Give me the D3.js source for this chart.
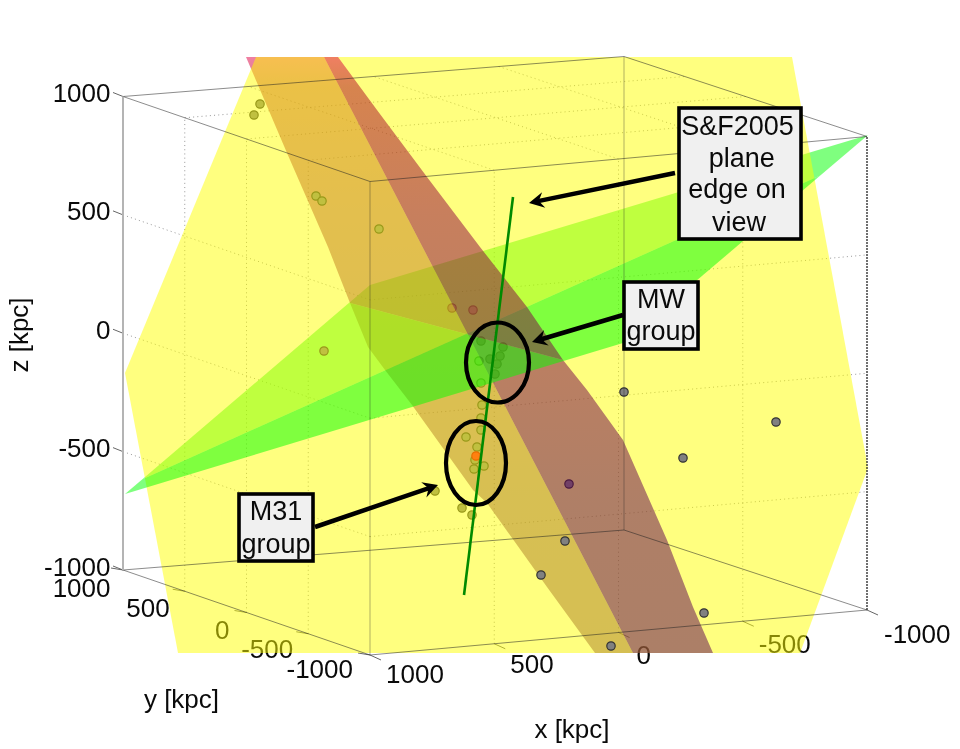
<!DOCTYPE html>
<html><head><meta charset="utf-8">
<script src="https://cdn.jsdelivr.net/npm/d3@7"></script>
<style>html,body{margin:0;padding:0;background:#fff}svg{display:block;filter:blur(0.6px)}text{font-family:"Liberation Sans",Arial,sans-serif;fill:#0a0a0a}</style>
</head><body><div id="chart"></div>
<script>
// ---- axis ticks (kpc)
const xTicks=[1000,500,0,-500,-1000];
const yTicks=[1000,500,0,-500,-1000];
const zTicks=[1000,500,0,-500,-1000];
// ---- planes and marks, read as kpc on the viewing plane [across, up]
const yellowPlane=[[-956,1192],[-1480,-72],[-1268,-1192],[1220,-1192],[1492,-452],[1188,1192]];
const greenPlane=[[-1480,-556],[-500,280],[1492,880],[512,48]];
const redPlane=[[-996,1192],[-832,808],[-668,432],[-632,340],[-580,208],[-508,32],[-440,-60],[-332,-200],[-88,-540],[-32,-592],[208,-928],[400,-1192],
 [872,-1192],[792,-1008],[688,-740],[512,-340],[368,-140],[272,-20],[128,192],[-60,432],[-272,712],[-472,980],[-628,1192]];
// plane intersections
const yellowRed=[[-684,1192],[552,-1192]];
const yellowGreen=[[-1400,-492],[1260,700]];
const redGreen=[[-580,208],[272,-20]];
// satellites by depth in the scene
const satellitesFar=[[-172,188]];
const satellitesBehindYellow=[[-940,1004],[-964,960],[-716,636],[-692,616],[-464,504],[-684,16],[-52,-200],[-56,-252],[-116,-328],[-56,-300],[-72,-368],[-80,-420],[-84,-456],[-44,-444],[-240,-544],[-132,-612],[-92,-640],
 [-56,56],[32,32],[20,-4],[-20,-16],[-64,-24],[8,-36],[0,-76],[-56,-112],[-88,180]];
const satellitesMiddle=[[296,-516]];
const satellitesNear=[[516,-148],[1124,-268],[752,-412],[280,-744],[184,-880],[836,-1032],[464,-1164]];
const m31=[[-76,-404]];
const edgeOnLine=[[72,632],[-124,-960]];
const groupEllipses=[[10,-30,126,160],[-76,-432,120,168]];
const arrows=[[[720,728],[136,608]],[[512,160],[148,52]],[[-720,-688],[-228,-520]]];
const boxes=[[736,988,1224,464],[516,292,812,24],[-1024,-556,-728,-824]];
const boxLabels=[["S&F2005","plane","edge on","view"],["MW","group"],["M31","group"]];

const W=960,H=749;
const sx=d3.scaleLinear().domain([-1000,1000]).range([245,745]);
const sy=d3.scaleLinear().domain([-1000,1000]).range([605,105]);
const P=p=>[sx(p[0]),sy(p[1])];
const ux=d3.scaleLinear().domain([1000,-1000]).range([0,1]);
const uy=d3.scaleLinear().domain([-1000,1000]).range([0,1]);
const uz=d3.scaleLinear().domain([-1000,1000]).range([0,1]);
function project(x,y,z){const u=ux(x),v=uy(y),w=uz(z);
 return [370+497*u-247*v+4*u*v, 655-45*u-85*v+5*u*v-473.5*w];}

const svg=d3.select("#chart").append("svg").attr("width",W).attr("height",H);
const defs=svg.append("defs");
const grad=defs.append("linearGradient").attr("id","redGrad").attr("gradientUnits","userSpaceOnUse").attr("x1",0).attr("x2",0).attr("y1",57).attr("y2",653);
[[0,"#e10046"],[0.05,"#af0a1e"],[0.26,"#91003c"],[0.75,"#60004f"],[1,"#5a0050"]].forEach(s=>grad.append("stop").attr("offset",s[0]).attr("stop-color",s[1]));
const line=d3.line();
const seg=(g,a,b,st)=>{const l=g.append("path").attr("d",line([a,b])).attr("fill","none");Object.entries(st).forEach(([k,v])=>l.attr(k,v));return l;};

// half-plane clipping of polygons on the viewing plane
const side=(l,p)=>(l[1][0]-l[0][0])*(p[1]-l[0][1])-(l[1][1]-l[0][1])*(p[0]-l[0][0]);
function clip(poly,l,sgn){const out=[];for(let i=0;i<poly.length;i++){const a=poly[i],b=poly[(i+1)%poly.length];
  const da=side(l,a)*sgn,db=side(l,b)*sgn;
  if(da>=0)out.push(a);
  if((da>=0)!==(db>=0)){const t=da/(da-db);out.push([a[0]+t*(b[0]-a[0]),a[1]+t*(b[1]-a[1])]);}}
 return out;}
const piece=(poly,l1,s1,l2,s2)=>clip(clip(poly,l1,s1),l2,s2);
const polyPath=pts=>line(pts.map(P))+"Z";

// ---- under the planes: grid, tick labels, axis titles
const under=svg.append("g");
const dot={stroke:"#444","stroke-width":0.8,"stroke-dasharray":"1 3.2","opacity":0.7};
zTicks.slice(1,4).forEach(z=>{
 seg(under,project(1000,1000,z),project(1000,-1000,z),dot);
 seg(under,project(1000,-1000,z),project(-1000,-1000,z),dot);});
yTicks.slice(1,4).forEach(y=>{
 seg(under,project(1000,y,-1000),project(1000,y,1000),dot);
 seg(under,project(1000,y,1000),project(-1000,y,1000),dot);});
xTicks.slice(1,4).forEach(x=>{
 seg(under,project(x,-1000,-1000),project(x,-1000,1000),dot);
 seg(under,project(x,-1000,1000),project(x,1000,1000),dot);});
const tickSt={stroke:"#666","stroke-width":1};
const add=(p,d)=>[p[0]+d[0],p[1]+d[1]];
const yLabelShift=[[-12.5,27],[-15,26],[-17,26],[-15,24],[-17,23]];
const xLabelShift=[[16,28],[16,29],[18,31],[16,32],[17,33]];
zTicks.forEach(z=>{const p=project(1000,1000,z);seg(under,p,add(p,[-10,-4]),tickSt);
 under.append("text").attr("x",p[0]-12.5).attr("y",p[1]+5.5).attr("text-anchor","end").attr("font-size",26).text(z);});
yTicks.forEach((y,i)=>{const p=project(1000,y,-1000);seg(under,p,add(p,[-12,-2]),tickSt);
 under.append("text").attr("x",p[0]+yLabelShift[i][0]).attr("y",p[1]+yLabelShift[i][1]).attr("text-anchor","end").attr("font-size",26).text(y);});
xTicks.forEach((x,i)=>{const p=project(x,-1000,-1000);seg(under,p,add(p,[11,5]),tickSt);
 under.append("text").attr("x",p[0]+xLabelShift[i][0]).attr("y",p[1]+xLabelShift[i][1]).attr("text-anchor","start").attr("font-size",26).text(x);});
under.append("text").attr("transform","translate(28,335) rotate(-90)").attr("text-anchor","middle").attr("font-size",26).text("z [kpc]");
under.append("text").attr("x",181.5).attr("y",708).attr("text-anchor","middle").attr("font-size",26).text("y [kpc]");
under.append("text").attr("x",572).attr("y",738).attr("text-anchor","middle").attr("font-size",26).text("x [kpc]");

// ---- planes, painted back to front
const scene=svg.append("g");
const green=(s1,s2)=>scene.append("path").attr("d",polyPath(piece(greenPlane,yellowGreen,s1,redGreen,s2))).attr("fill","#00ff00").attr("fill-opacity",0.5);
const red=(s1,s2)=>scene.append("path").attr("d",polyPath(piece(redPlane,yellowRed,s1,redGreen,s2))).attr("fill","url(#redGrad)").attr("fill-opacity",0.5);
const dots=(data,fill,edge)=>scene.append("g").selectAll("circle").data(data).join("circle")
  .attr("cx",d=>sx(d[0])).attr("cy",d=>sy(d[1])).attr("r",4.2).attr("fill",fill).attr("stroke",edge).attr("stroke-width",1.2);

green(1,1);
dots(satellitesFar,"#808080","#333");
red(-1,1);
red(-1,-1);
green(1,-1);
dots(satellitesBehindYellow,"#808080","#333");
scene.append("path").attr("d",polyPath(yellowPlane)).attr("fill","#ffff00").attr("fill-opacity",0.5);
dots(satellitesMiddle,"#808080","#333");
green(-1,1);
red(1,-1);
green(-1,-1);
red(1,1);
dots(satellitesNear,"#808080","#333");
dots(m31,"#ff8010","#e87000");

// ---- box
const c=(x,y,z)=>project(x,y,z);
const boxSt={stroke:"#222","stroke-width":0.85,opacity:0.62};
[[[1,1,1],[1,-1,1]],[[1,-1,1],[-1,-1,1]],[[-1,-1,1],[-1,1,1]],[[-1,1,1],[1,1,1]],
 [[1,1,-1],[1,-1,-1]],[[1,-1,-1],[-1,-1,-1]],[[-1,-1,-1],[-1,1,-1]],[[-1,1,-1],[1,1,-1]]].forEach(e=>{
  seg(svg,c(...e[0].map(v=>v*1000)),c(...e[1].map(v=>v*1000)),boxSt);});
const vertSt={stroke:"#222","stroke-width":0.85,opacity:0.42};
[[1,-1],[-1,1]].forEach(e=>seg(svg,c(e[0]*1000,e[1]*1000,-1000),c(e[0]*1000,e[1]*1000,1000),vertSt));
seg(svg,c(1000,1000,-1000),c(1000,1000,1000),{stroke:"#b4b4b4","stroke-width":2});
seg(svg,c(-1000,-1000,-1000),c(-1000,-1000,1000),{stroke:"#333","stroke-width":1.4,"stroke-dasharray":"2 1"});

// ---- edge-on line, group ellipses, annotations
svg.append("path").attr("d",line(edgeOnLine.map(P))).attr("stroke","#008a00").attr("stroke-width",2.6).attr("fill","none");
svg.selectAll("ellipse").data(groupEllipses).join("ellipse")
 .attr("cx",d=>sx(d[0])).attr("cy",d=>sy(d[1]))
 .attr("rx",d=>sx(d[2])-sx(0)).attr("ry",d=>sy(0)-sy(d[3]))
 .attr("fill","none").attr("stroke","#000").attr("stroke-width",4.2);
arrows.forEach(a=>{
 const p0=P(a[0]),p1=P(a[1]);const ang=Math.atan2(p1[1]-p0[1],p1[0]-p0[0]);
 const L=15,Wd=8,n=10;
 const pt=(l,w)=>[p1[0]-l*Math.cos(ang)-w*Math.sin(ang),p1[1]-l*Math.sin(ang)+w*Math.cos(ang)];
 svg.append("path").attr("d",line([p0,pt(n-2,0)])).attr("stroke","#000").attr("stroke-width",4.5).attr("fill","none");
 svg.append("path").attr("d",line([p1,pt(L,Wd),pt(n,0),pt(L,-Wd)])+"Z").attr("fill","#000");
});
const lineOffsets=[[[-2.5,27],[1.7,59],[-3,90],[-1,123]],[[0,26],[0,58]],[[0,26],[0,59]]];
boxes.forEach((b,i)=>{
 const x0=sx(b[0]),y0=sy(b[1]),x1=sx(b[2]),y1=sy(b[3]);
 svg.append("rect").attr("x",x0).attr("y",y0).attr("width",x1-x0).attr("height",y1-y0).attr("fill","#f0f0f0").attr("stroke","#000").attr("stroke-width",3.6);
 boxLabels[i].forEach((t,j)=>{
  svg.append("text").attr("x",(x0+x1)/2+lineOffsets[i][j][0]).attr("y",y0+lineOffsets[i][j][1]).attr("text-anchor","middle").attr("font-size",27).text(t);});
});
</script></body></html>
